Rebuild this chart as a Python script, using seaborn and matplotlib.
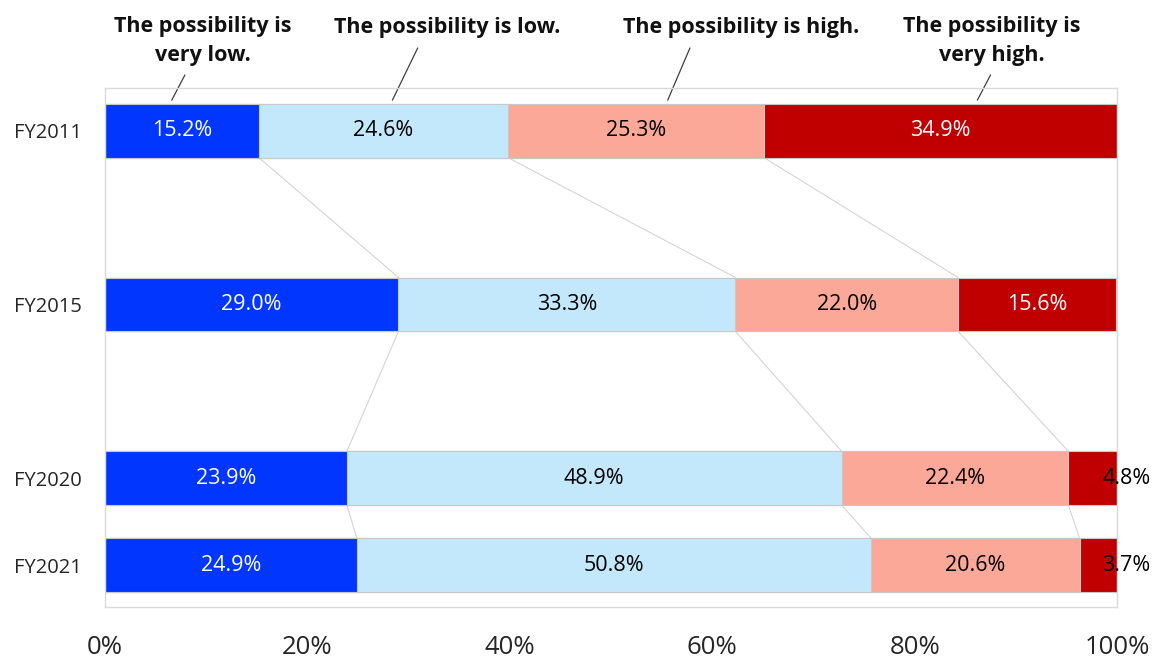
import pandas as pd
import numpy as np
import matplotlib
matplotlib.use('Agg')
import matplotlib.pyplot as plt
import seaborn as sns

years = ['FY2011', 'FY2015', 'FY2020', 'FY2021']
very_low = [15.2, 29.0, 23.9, 24.9]
low = [24.6, 33.3, 48.9, 50.8]
high = [25.3, 22.0, 22.4, 20.6]
very_high = [34.9, 15.6, 4.8, 3.7]
categories = ['The possibility is\nvery low.', 'The possibility is low.',
              'The possibility is high.', 'The possibility is\nvery high.']

# layout: uneven spacing of the rows, like the original
row_pos = [0, 2, 4, 5]
bar_h = 0.62
colors = ['#0036FF', '#C4E8FB', '#FBA898', '#C00000']
text_colors = ['white', 'black', 'black', 'white']

sns.set_style('white')
plt.rcParams['font.family'] = ['Open Sans', 'DejaVu Sans']

series = [very_low, low, high, very_high]
vals = np.array(series).T           # rows = years
cum = np.cumsum(vals, axis=1)

fig = plt.figure(figsize=(11.56, 6.6), dpi=100)
ax = fig.add_axes([0.0908, 0.0803, 0.8755, 0.7864])

# stacked bars: draw cumulative totals from the widest to the narrowest
for k in range(3, -1, -1):
    df = pd.DataFrame({'pos': row_pos, 'total': cum[:, k]})
    sns.barplot(data=df, x='total', y='pos', orient='y', native_scale=True,
                width=bar_h, color=colors[k], saturation=1, errorbar=None,
                edgecolor='#C8C8C8', linewidth=0.8, ax=ax)

# connector lines between bars
for i in range(len(years) - 1):
    for k in range(3):
        ax.plot([cum[i, k], cum[i + 1, k]],
                [row_pos[i] + bar_h / 2, row_pos[i + 1] - bar_h / 2],
                color='#D4D4D4', lw=0.8, zorder=0)

# value labels
for i in range(len(years)):
    for k in range(4):
        v = vals[i, k]
        mid = cum[i, k] - v / 2
        c = text_colors[k]
        if v < 6:
            mid = 100.9
            c = 'black'
        ax.text(mid, row_pos[i], f'{v:.1f}%', ha='center', va='center',
                fontsize=15.5, color=c, clip_on=False)

# category headers with leader lines
head_x = [9.7, 33.8, 62.9, 87.6]
head_y = [-1.03, -1.19, -1.19, -1.03]
lead = [(6.6, 7.9, -0.64), (28.4, 30.9, -0.95), (55.6, 57.8, -0.95), (86.2, 87.5, -0.64)]
for k in range(4):
    ax.text(head_x[k], head_y[k], categories[k], ha='center', va='center',
            fontsize=15.5, fontweight='bold', color='#111111', linespacing=1.45,
            clip_on=False)
    x0, x1, y1 = lead[k]
    ax.plot([x0, x1], [-0.35, y1], color='#404040', lw=0.9, clip_on=False)

ax.set_xlim(0, 100)
ax.set_ylim(5.48, -0.49)
ax.set_xticks([0, 20, 40, 60, 80, 100])
ax.set_xticklabels(['0%', '20%', '40%', '60%', '80%', '100%'], fontsize=18.5)
ax.set_yticks(row_pos)
ax.set_yticklabels(years, fontsize=14.5)
ax.tick_params(axis='x', length=0, pad=20)
ax.tick_params(axis='y', length=0, pad=16.5)
ax.set_xlabel('')
ax.set_ylabel('')
for s in ax.spines.values():
    s.set_color('#D9D9D9')
    s.set_linewidth(1.0)

fig.savefig('out.png', dpi=100)
plt.close(fig)
